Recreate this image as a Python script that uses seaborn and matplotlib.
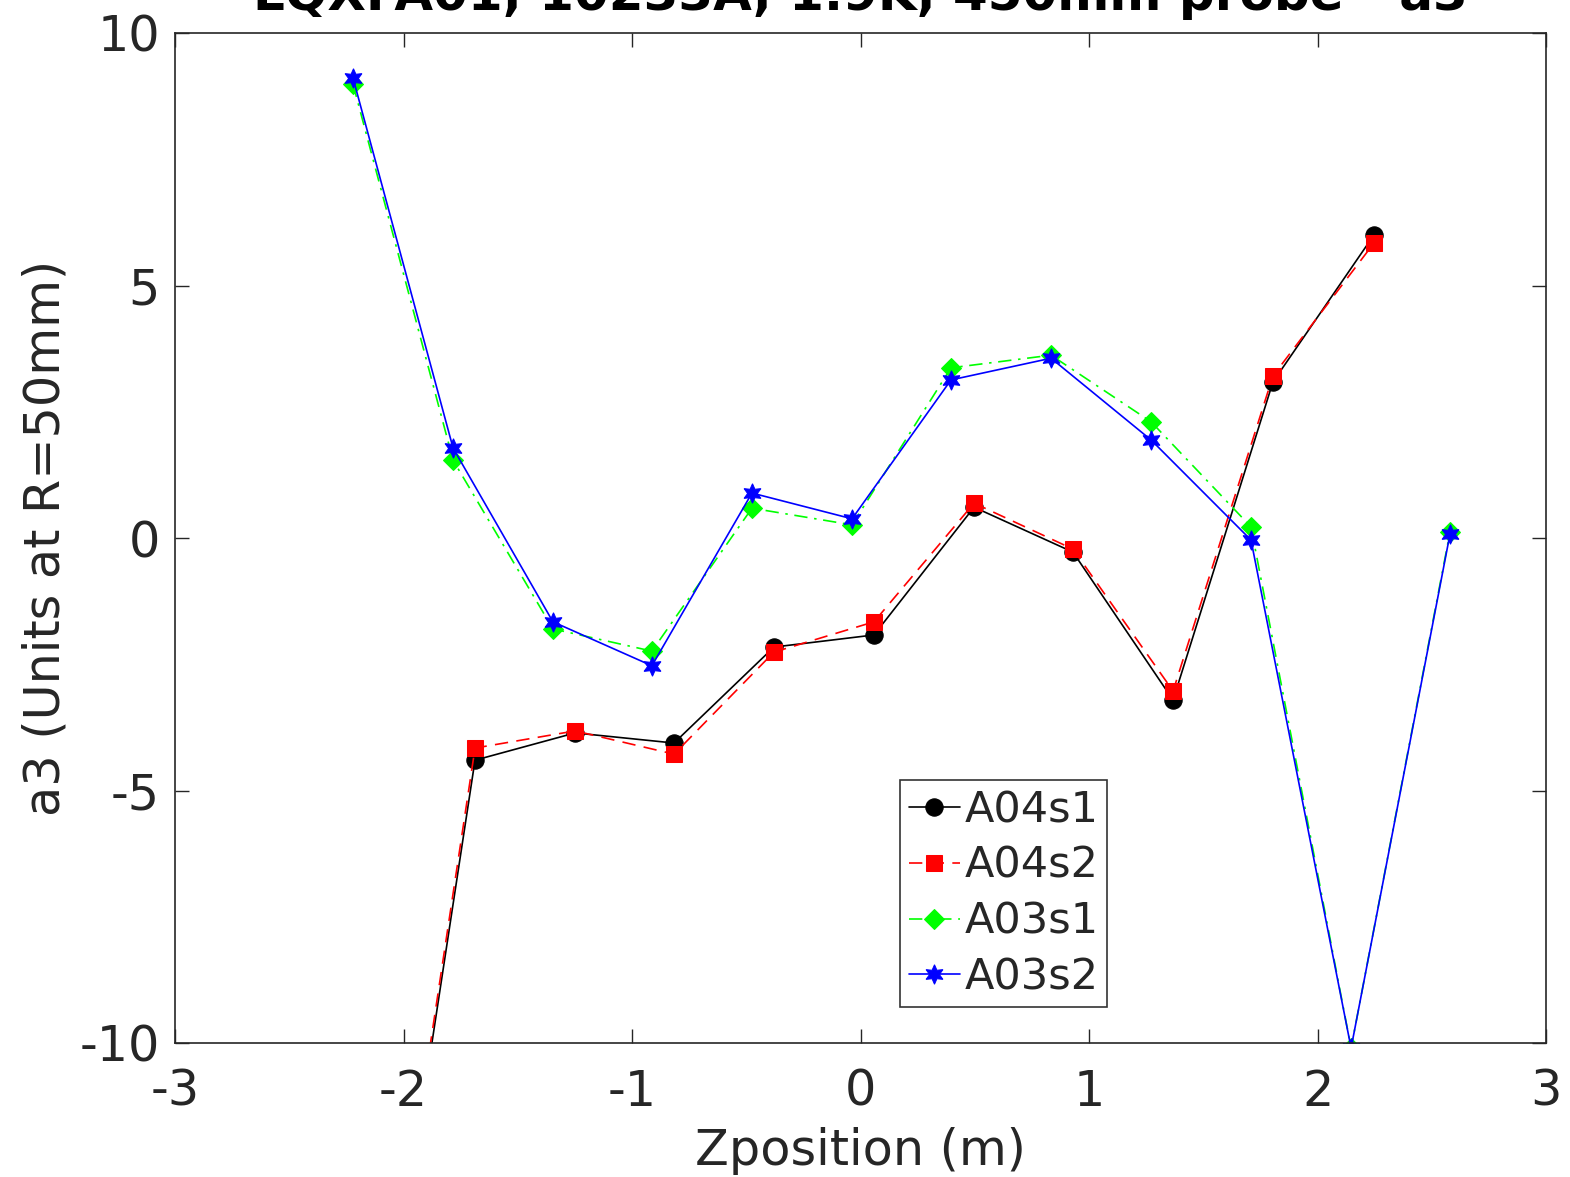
import matplotlib
matplotlib.use("Agg")
import matplotlib.pyplot as plt
import seaborn as sns
import pandas as pd

# ---- data ----
z_a04 = [-2.125, -1.687, -1.249, -0.816, -0.379, 0.059, 0.497, 0.930, 1.368, 1.805, 2.247]
a04s1 = [-17.4, -4.40, -3.86, -4.06, -2.16, -1.92, 0.61, -0.28, -3.21, 3.09, 6.00]
a04s2 = [-17.3, -4.16, -3.82, -4.28, -2.26, -1.66, 0.69, -0.22, -3.03, 3.21, 5.84]

z_a03 = [-2.221, -1.783, -1.346, -0.913, -0.475, -0.037, 0.396, 0.834, 1.272, 1.709, 2.147, 2.580]
a03s1 = [8.99, 1.54, -1.80, -2.24, 0.59, 0.26, 3.37, 3.62, 2.30, 0.22, -10.1, 0.12]
a03s2 = [9.11, 1.78, -1.66, -2.53, 0.89, 0.38, 3.13, 3.56, 1.94, -0.04, -10.1, 0.08]

series_names = ["A04s1", "A04s2", "A03s1", "A03s2"]
title_text = "LQXFA01, 10233A, 1.9K, 450mm probe - a3"
x_label = "Zposition (m)"
y_label = "a3 (Units at R=50mm)"
x_ticks = [-3, -2, -1, 0, 1, 2, 3]
y_ticks = [-10, -5, 0, 5, 10]

frames = []
for name, zs, vals in [("A04s1", z_a04, a04s1), ("A04s2", z_a04, a04s2),
                       ("A03s1", z_a03, a03s1), ("A03s2", z_a03, a03s2)]:
    frames.append(pd.DataFrame({"z": zs, "a3": vals, "series": name}))
df = pd.concat(frames, ignore_index=True)

styles = {
    "A04s1": dict(color="black", linestyle="-", marker="o", markersize=12.5),
    "A04s2": dict(color="red", linestyle=(0, (8, 5)), marker="s", markersize=11),
    "A03s1": dict(color="#00ff00", linestyle=(0, (8, 4, 1.5, 4)), marker="D", markersize=10),
    "A03s2": dict(color="blue", linestyle="-", marker=(6, 1, 0), markersize=14),
}

sns.set_theme(style="ticks")
plt.rcParams["font.family"] = ["DejaVu Sans"]

fig = plt.figure(figsize=(15.7, 11.77), dpi=100)
ax = fig.add_axes([175 / 1570, 1 - 1043 / 1177, (1546 - 175) / 1570, (1043 - 33) / 1177])

for name in series_names:
    st = styles[name]
    sub = df[df["series"] == name]
    sns.lineplot(data=sub, x="z", y="a3", ax=ax, sort=False, estimator=None,
                 color=st["color"], linestyle=st["linestyle"], marker=st["marker"],
                 markersize=st["markersize"], markeredgecolor=st["color"],
                 markerfacecolor=st["color"], linewidth=1.2, label=name)

ax.set_xlim(-3, 3)
ax.set_ylim(-10, 10)
ax.set_xticks(x_ticks)
ax.set_yticks(y_ticks)
ax.set_xticklabels([str(t) for t in x_ticks])
ax.set_yticklabels([str(t) for t in y_ticks])
ax.tick_params(direction="in", length=10, width=1.0, colors="#262626",
               labelsize=35.5, top=True, right=True)
ax.tick_params(axis="x", pad=18)
ax.tick_params(axis="y", pad=11)
for sp in ax.spines.values():
    sp.set_visible(True)
    sp.set_color("#262626")
    sp.set_linewidth(1.2)
ax.set_xlabel(x_label, fontsize=35.5, color="#262626", labelpad=8)
ax.set_ylabel(y_label, fontsize=35.5, color="#262626", labelpad=7)

leg = ax.legend(loc="lower left", bbox_to_anchor=((900 - 175) / 1371, (1043 - 1007) / 1010),
                fontsize=31, frameon=True, fancybox=False, edgecolor="black",
                handlelength=1.2, handletextpad=0.1, labelspacing=0.32,
                borderpad=0.2, borderaxespad=0)
leg.get_frame().set_linewidth(1.2)

fig.text(860.5 / 1570, 1 - 10 / 1177, title_text, fontsize=36, fontweight="bold",
         ha="center", va="baseline", color="black")

fig.savefig("out.png", dpi=100)
